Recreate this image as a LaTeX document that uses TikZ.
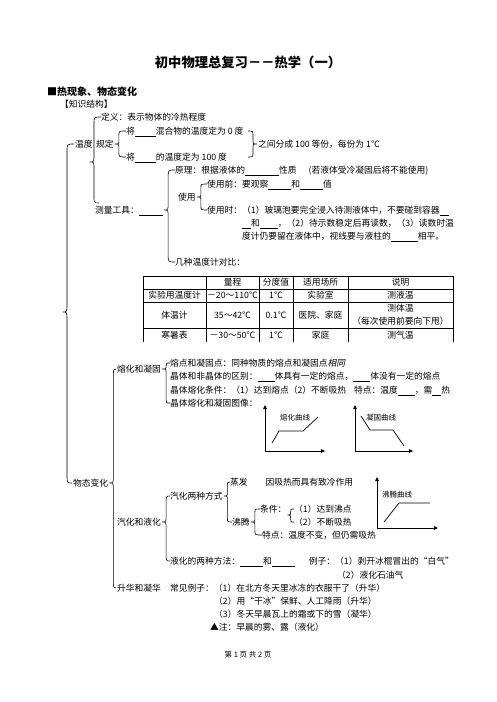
\documentclass[tikz,border=0pt]{standalone}
\usepackage{fontspec}
\setmainfont{Noto Sans CJK SC}
\newfontfamily\slantfont{Noto Sans CJK SC}[FakeSlant=0.2]
\usetikzlibrary{arrows.meta,positioning,calc}
\tikzset{x=1pt, y=-1pt, % one unit is one pixel of the page, y grows downwards
        txt/.style={ % every line of text, placed by its left end
            anchor=west, inner sep=0pt, text height=7.6pt, text depth=1pt,
            font=\fontsize{8.75pt}{10pt}\selectfont},
        cell/.style={txt, anchor=center},
        small/.style={inner sep=0pt, font=\fontsize{7.5pt}{9pt}\selectfont},
        brace line/.style={line width=0.6pt, line join=round},
        tab line/.style={line width=0.7pt},
        axis/.style={line width=0.8pt, -{Triangle[length=4pt,width=3.5pt]}},
        curve/.style={line width=0.7pt}
        }
\newcommand{\fillin}[1]{\underline{\hspace{#1}}}
\newlength{\bcurl}\setlength{\bcurl}{5pt}
% brace from its tip (#2) to the ends (#3) and (#4); #1 = tip to stem
\newcommand{\wbrace}[4][4pt]{%
  \draw[brace line] let \p1=(#2), \p2=(#3), \p3=(#4) in
    (\p2) .. controls ({\x1+#1},\y2) .. ({\x1+#1},{\y2-\bcurl})
    -- ({\x1+#1},{\y1+\bcurl}) .. controls ({\x1+#1},\y1) .. (\p1)
    .. controls ({\x1+#1},\y1) .. ({\x1+#1},{\y1-\bcurl})
    -- ({\x1+#1},{\y3+\bcurl}) .. controls ({\x1+#1},\y3) .. (\p3);}

\begin{document}
\begin{tikzpicture}
    \fill[white] (0,0) rectangle (496,702);
    \useasboundingbox (0,0) rectangle (496,702);

    \node[inner sep=0pt, font=\fontsize{13.3pt}{15pt}\selectfont\bfseries] (title) at (248,62) {初中物理总复习－－热学（一）};
    \node[txt, font=\fontsize{10pt}{12pt}\selectfont\bfseries] (head) at (47,92) {■热现象、物态变化};
    \node[txt] (zsjg) at (60,104) {【知识结构】};

    % temperature
    \node[txt] (wendu) at (75,144) {温度};
    \node[txt] (dingyi) at (101,117) {定义：表示物体的冷热程度};
    \node[txt] (guiding) at (96,144) {规定};
    \node[txt] (jiang1) at (126,131) {将\fillin{21pt}混合物的温度定为 0 度};
    \node[txt] (jiang2) at (126,157) {将\fillin{21pt}的温度定为 100 度};
    \node[txt] (fenge) at (258,144) {之间分成 100 等份，每份为 1℃};
    \node[txt] (celiang) at (95,210) {测量工具：\fillin{24pt}};
    \node[txt] (yuanli) at (175,170) {原理：根据液体的\fillin{34pt}性质\hspace{12pt}(若液体受冷凝固后将不能使用)};
    \node[txt] (shiyong) at (178,197) {使用};
    \node[txt] (syq) at (207,184) {使用前：要观察\fillin{23pt}和\fillin{23pt}值};
    \node[txt] (sys) at (207,210) {使用时：（1）玻璃泡要完全浸入待测液体中，不要碰到容器\fillin{9pt}};
    \node[txt] (sys2) at (242,223) {\fillin{9pt}和\fillin{18pt}，（2）待示数稳定后再读数，（3）读数时温};
    \node[txt] (sys3) at (242,236) {度计仍要留在液体中，视线要与液柱的\fillin{27pt}相平。};
    \node[txt] (jizhong) at (175,262) {几种温度计对比：};

    \coordinate (wendu tip) at (90,162);
    \coordinate (wendu end) at (99,203);
    \coordinate (gd top) at (248,131);
    \coordinate (gd bot) at (248,157);

    \setlength{\bcurl}{7pt}
    \wbrace{wendu tip}{dingyi.west}{wendu end}
    \wbrace{$(celiang.east)+(1,0)$}{yuanli.west}{jizhong.west}
    \setlength{\bcurl}{4.5pt}
    \wbrace{$(guiding.east)+(1,0)$}{jiang1.west}{jiang2.west}
    \wbrace[0pt-4pt]{$(fenge.west)+(-1,0)$}{gd top}{gd bot}
    \wbrace{$(shiyong.east)+(1,0)$}{syq.west}{sys.west}

    % table of thermometers
    \foreach \y in {276,289,302,328}
        \draw[tab line] (143,\y) -- (453,\y);
    \foreach \x in {143,206,259,293,348,453}
        \draw[tab line] (\x,276) -- (\x,342);
    \node[cell] (h2) at (232.5,282.5) {量程};
    \node[cell] (h3) at (276,282.5) {分度值};
    \node[cell] (h4) at (320.5,282.5) {适用场所};
    \node[cell] (h5) at (400.5,282.5) {说明};
    \node[cell] (a1) at (174.5,295.5) {实验用温度计};
    \node[cell] (a2) at (232.5,295.5) {－20～110℃};
    \node[cell] (a3) at (276,295.5) {1℃};
    \node[cell] (a4) at (320.5,295.5) {实验室};
    \node[cell] (a5) at (400.5,295.5) {测液温};
    \node[cell] (b1) at (174.5,315) {体温计};
    \node[cell] (b2) at (232.5,315) {35～42℃};
    \node[cell] (b3) at (276,315) {0.1℃};
    \node[cell] (b4) at (320.5,315) {医院、家庭};
    \node[cell] (b5) at (400.5,308.5) {测体温};
    \node[cell] (b6) at (400.5,321) {（每次使用前要向下甩）};
    \node[cell] (c1) at (174.5,335) {寒暑表};
    \node[cell] (c2) at (232.5,335) {－30～50℃};
    \node[cell] (c3) at (276,335) {1℃};
    \node[cell] (c4) at (320.5,335) {家庭};
    \node[cell] (c5) at (400.5,335) {测气温};

    % change of state
    \node[txt] (wtbh) at (73,483) {物态变化};
    \node[txt] (rhnt) at (117,369) {熔化和凝固};
    \node[txt] (rd) at (170,363) {熔点和凝固点：同种物质的熔点和凝固点{\slantfont 相同}};
    \node[txt] (qt) at (170,376) {晶体和非晶体的区别：\fillin{17pt}体具有一定的熔点，\fillin{17pt}体没有一定的熔点};
    \node[txt] (rtj) at (170,390) {晶体熔化条件：（1）达到熔点（2）不断吸热\hspace{8pt}特点：温度\fillin{17pt}，需\fillin{9pt}热};
    \node[txt] (tx) at (170,403) {晶体熔化和凝固图像：};

    \node[txt] (qhyh) at (117,522) {汽化和液化};
    \node[txt] (qhfs) at (170,496) {汽化两种方式};
    \node[txt] (zf) at (230,482) {蒸发\hspace{18pt}因吸热而具有致冷作用};
    \node[txt] (ft) at (232,522) {沸腾};
    \node[txt] (tjn) at (260,509) {条件：};
    \node[txt] (tj1) at (294,509) {（1）达到沸点};
    \node[txt] (tj2) at (294,522) {（2）不断吸热};
    \node[txt] (td) at (262,535) {特点：温度不变，但仍需吸热};
    \node[txt] (yhff) at (170,561) {液化的两种方法：\fillin{23pt}和\fillin{23pt}\hspace{14pt}例子：（1）剥开冰棍冒出的“白气”};
    \node[txt] (yhsy) at (337,575) {（2）液化石油气};
    \node[txt] (shnh) at (117,588) {升华和凝华};
    \node[txt] (cjlz) at (170,588) {常见例子：（1）在北方冬天里冰冻的衣服干了（升华）};
    \node[txt] (lz2) at (214,601) {（2）用“干冰”保鲜、人工降雨（升华）};
    \node[txt] (lz3) at (214,614) {（3）冬天早晨瓦上的霜或下的雪（凝华）};
    \node[txt] (zhu) at (210,627) {▲注：早晨的雾、露（液化）};

    \coordinate (all tip) at (63,312);
    \setlength{\bcurl}{8pt}
    \wbrace{all tip}{$(wendu.west)+(-1,0)$}{$(wtbh.west)+(-1,0)$}
    \wbrace{$(wtbh.east)+(1,0)$}{$(rhnt.west)+(-1,0)$}{$(shnh.west)+(-1,0)$}
    \setlength{\bcurl}{7pt}
    \wbrace{$(qhyh.east)+(1,0)$}{qhfs.west}{yhff.west}
    \setlength{\bcurl}{4.5pt}
    \wbrace[3.5pt]{$(qhfs.east)+(1,0)$}{zf.west}{ft.west}
    \wbrace{$(ft.east)+(1,0)$}{tjn.west}{td.west}
    \setlength{\bcurl}{3pt}
    \wbrace{$(rhnt.east)+(1,0)$}{rd.west}{tx.west}
    \wbrace[3pt]{$(tjn.east)+(1,6)$}{tj1.west}{tj2.west}

    % melting and solidifying curves
    \coordinate (g1o) at (265,451);
    \coordinate (g1y) at (265,405);
    \coordinate (g1x) at (325,451);
    \draw[axis] (g1o) -- (g1y);
    \draw[axis] (g1o) -- (g1x);
    \draw[curve] (272,443) -- (279,431) -- (303,431) -- (318,417);
    \node[small] (g1l) at (295,418) {熔化曲线};

    \coordinate (g2o) at (355,451);
    \coordinate (g2y) at (355,405);
    \coordinate (g2x) at (413,451);
    \draw[axis] (g2o) -- (g2y);
    \draw[axis] (g2o) -- (g2x);
    \draw[curve] (361,416) -- (370,430) -- (393,430) -- (404,446);
    \node[small] (g2l) at (381,418) {凝固曲线};

    % boiling curve
    \coordinate (g3o) at (377,528);
    \coordinate (g3y) at (377,477);
    \coordinate (g3x) at (438,528);
    \draw[axis] (g3o) -- (g3y);
    \draw[axis] (g3o) -- (g3x);
    \draw[curve] (384,522) -- (399,503) -- (430,503);
    \node[small] (g3l) at (397,495) {沸腾曲线};

    \node[small] (foot) at (248,655) {第 1 页 共 2 页};
\end{tikzpicture}
\end{document}
